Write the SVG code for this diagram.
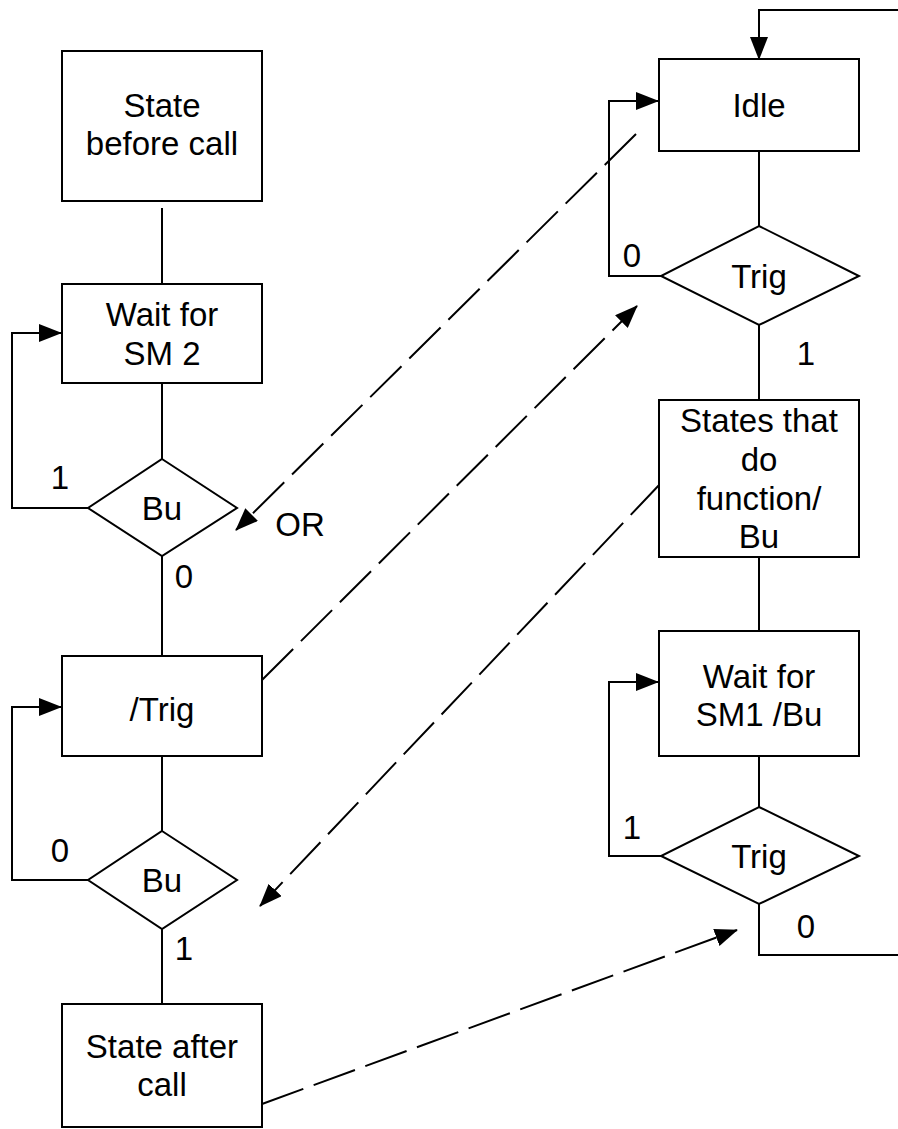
<svg xmlns="http://www.w3.org/2000/svg" width="898" height="1129" viewBox="0 0 898 1129">
<style>
.box{fill:#fff;stroke:#000;stroke-width:2}
.ln{fill:none;stroke:#000;stroke-width:2}
.dash{fill:none;stroke:#000;stroke-width:2;stroke-dasharray:44 11}
text{font-family:"Liberation Sans",Arial,Helvetica,sans-serif;font-size:33px;fill:#000}
.c{text-anchor:middle}
</style>
<defs>
<marker id="ah" markerWidth="23" markerHeight="18" refX="22" refY="9" orient="auto" markerUnits="userSpaceOnUse">
<path d="M0,0 L23,9 L0,18 z" fill="#000"/>
</marker>
</defs>
<rect width="898" height="1129" fill="#fff"/>
<g id="connectors">
<line class="ln" x1="162" y1="208" x2="162" y2="284"/>
<line class="ln" x1="162" y1="383" x2="162" y2="459"/>
<polyline class="ln" points="88,508 12,508 12,333 61,333" marker-end="url(#ah)"/>
<line class="ln" x1="162" y1="556" x2="162" y2="656"/>
<line class="ln" x1="162" y1="756" x2="162" y2="831"/>
<polyline class="ln" points="88,880 12,880 12,707 61,707" marker-end="url(#ah)"/>
<line class="ln" x1="162" y1="929" x2="162" y2="1004"/>
<polyline class="ln" points="900,10 759,10 759,59" marker-end="url(#ah)"/>
<line class="ln" x1="759" y1="151" x2="759" y2="226"/>
<polyline class="ln" points="661,276 609,276 609,101 658,101" marker-end="url(#ah)"/>
<line class="ln" x1="759" y1="325" x2="759" y2="400"/>
<line class="ln" x1="759" y1="557" x2="759" y2="631"/>
<polyline class="ln" points="661,856 609,856 609,682 658,682" marker-end="url(#ah)"/>
<line class="ln" x1="759" y1="756" x2="759" y2="807"/>
<polyline class="ln" points="759,904 759,955 900,955"/>
<line class="dash" x1="636" y1="134" x2="236" y2="530" marker-end="url(#ah)"/>
<line class="dash" x1="262" y1="680" x2="637" y2="306" marker-end="url(#ah)"/>
<line class="dash" x1="661" y1="483" x2="260" y2="906" marker-end="url(#ah)"/>
<line class="dash" x1="262" y1="1104" x2="737" y2="930" marker-end="url(#ah)"/>
<text x="60" y="489" class="c">1</text>
<text x="300" y="536" class="c">OR</text>
<text x="184" y="588" class="c">0</text>
<text x="60" y="862" class="c">0</text>
<text x="184" y="960" class="c">1</text>
<text x="632" y="267" class="c">0</text>
<text x="806" y="365" class="c">1</text>
<text x="632" y="839" class="c">1</text>
<text x="806" y="938" class="c">0</text>
</g>
<g id="state-before-call">
<rect class="box" x="62" y="51" width="200" height="150"/>
<text x="162" y="117" class="c">State</text>
<text x="162" y="155" class="c">before call</text>
</g>
<g id="wait-sm2">
<rect class="box" x="62" y="284" width="200" height="99"/>
<text x="162" y="326" class="c">Wait for</text>
<text x="162" y="365" class="c">SM 2</text>
</g>
<g id="bu-1">
<polygon class="box" points="162,459 237,508 162,556 88,508"/>
<text x="162" y="520" class="c">Bu</text>
</g>
<g id="not-trig">
<rect class="box" x="62" y="656" width="200" height="100"/>
<text x="162" y="721" class="c">/Trig</text>
</g>
<g id="bu-2">
<polygon class="box" points="162,831 237,880 162,929 88,880"/>
<text x="162" y="892" class="c">Bu</text>
</g>
<g id="state-after-call">
<rect class="box" x="62" y="1004" width="200" height="123"/>
<text x="162" y="1058" class="c">State after</text>
<text x="162" y="1096" class="c">call</text>
</g>
<g id="idle">
<rect class="box" x="659" y="59" width="200" height="92"/>
<text x="759" y="117" class="c">Idle</text>
</g>
<g id="trig-1">
<polygon class="box" points="759,226 859,276 759,325 661,276"/>
<text x="759" y="288" class="c">Trig</text>
</g>
<g id="states-function">
<rect class="box" x="659" y="400" width="200" height="157"/>
<text x="759" y="432" class="c">States that</text>
<text x="759" y="471" class="c">do</text>
<text x="759" y="510" class="c">function/</text>
<text x="759" y="548" class="c">Bu</text>
</g>
<g id="wait-sm1">
<rect class="box" x="659" y="631" width="200" height="125"/>
<text x="759" y="688" class="c">Wait for</text>
<text x="759" y="726" class="c">SM1 /Bu</text>
</g>
<g id="trig-2">
<polygon class="box" points="759,807 859,856 759,904 661,856"/>
<text x="759" y="868" class="c">Trig</text>
</g>
</svg>
